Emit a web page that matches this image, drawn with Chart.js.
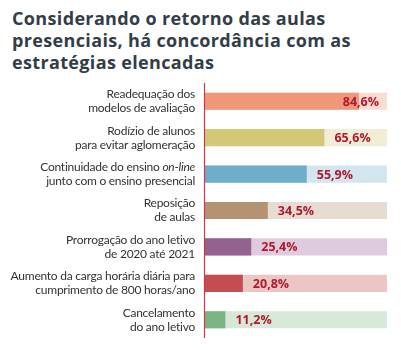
<!DOCTYPE html>
<html>
<head>
<meta charset="utf-8">
<script src="https://cdn.jsdelivr.net/npm/chart.js@4/dist/chart.umd.min.js"></script>
<style>
  html,body{margin:0;padding:0;background:#fff;}
  #wrap{position:relative;width:401px;height:350px;}
  #title{position:absolute;left:12px;top:7px;font:bold 18px "Open Sans",sans-serif;line-height:22px;color:#333d47;letter-spacing:0.35px;}
  canvas{position:absolute;left:0;top:0;}
</style>
</head>
<body>
<div id="wrap">
  <div id="title">Considerando o retorno das aulas<br>presenciais, há concordância com as<br>estratégias elencadas</div>
  <canvas id="chart" width="401" height="350"></canvas>
</div>
<script>
// ========= DADOS =========
const categories = [
    ['Readequação dos', 'modelos de avaliação'],
    ['Rodízio de alunos', 'para evitar aglomeração'],
    ['Continuidade do ensino on-line', 'junto com o ensino presencial'],
    ['Reposição', 'de aulas'],
    ['Prorrogação do ano letivo', 'de 2020 até 2021'],
    ['Aumento da carga horária diária para', 'cumprimento de 800 horas/ano'],
    ['Cancelamento', 'do ano letivo']
];
const values = [84.6, 65.6, 55.9, 34.5, 25.4, 20.8, 11.2];
const total = [100, 100, 100, 100, 100, 100, 100];
const barColors   = ['#f0977a','#d3c878','#6faecb','#b39372','#93628f','#c34e52','#7bb586'];
const trackColors = ['#fbdcd1','#f0eed5','#d3e5ee','#e6dcd2','#dfcbdd','#ebc6c5','#d6e8d7'];

const fmt = v => v.toFixed(1).replace('.', ',') + '%';
const LBL = '12px Lato, sans-serif';
const LBL_I = 'italic 12px Lato, sans-serif';

// rótulos de valor + linha vermelha do eixo
const valueLabels = {
    id: 'valueLabels',
    afterDatasetsDraw(chart){
        const ctx = chart.ctx;
        const meta = chart.getDatasetMeta(1);
        const right = chart.chartArea.right;
        ctx.save();
        ctx.font = 'bold 12.5px "Open Sans", sans-serif';
        ctx.fillStyle = '#b3172d';
        ctx.textBaseline = 'middle';
        meta.data.forEach((bar, i) => {
            const txt = fmt(values[i]);
            const w = ctx.measureText(txt).width;
            const x = Math.min(bar.x + 10, right - w - 8);
            ctx.fillText(txt, x, bar.y + 1);
        });
        // eixo
        const xa = chart.chartArea.left - 0.5;
        ctx.strokeStyle = '#c8374b';
        ctx.lineWidth = 1.2;
        ctx.beginPath();
        ctx.moveTo(xa, chart.chartArea.top);
        ctx.lineTo(xa, chart.chartArea.bottom);
        ctx.stroke();
        ctx.restore();
    }
};

// rótulos das categorias (com "on-line" em itálico)
const catLabels = {
    id: 'catLabels',
    afterDraw(chart){
        const ctx = chart.ctx;
        const ys = chart.scales.y;
        const x = chart.chartArea.left - 10;
        ctx.save();
        ctx.fillStyle = '#333333';
        ctx.textBaseline = 'middle';
        ctx.letterSpacing = '-0.25px';
        categories.forEach((lines, i) => {
            const yc = ys.getPixelForValue(i);
            lines.forEach((ln, j) => {
                const y = yc - 7 + j * 14;
                if(ln.includes('on-line')){
                    const pre = ln.replace('on-line', '');
                    ctx.font = LBL_I;
                    const wi = ctx.measureText('on-line').width;
                    ctx.textAlign = 'right';
                    ctx.fillText('on-line', x, y);
                    ctx.font = LBL;
                    ctx.fillText(pre, x - wi, y);
                } else {
                    ctx.font = LBL;
                    ctx.textAlign = 'right';
                    ctx.fillText(ln, x, y);
                }
            });
        });
        ctx.restore();
    }
};

new Chart(document.getElementById('chart').getContext('2d'), {
    type: 'bar',
    data: {
        labels: categories,
        datasets: [
            { data: total, backgroundColor: trackColors, barPercentage: 0.47, categoryPercentage: 1, order: 2 },
            { data: values, backgroundColor: barColors, barPercentage: 0.47, categoryPercentage: 1, order: 1 }
        ]
    },
    options: {
        indexAxis: 'y',
        responsive: false,
        animation: false,
        layout: { padding: { top: 83, right: 14, bottom: 12, left: 0 } },
        plugins: { legend: { display: false }, tooltip: { enabled: false }, title: { display: false } },
        datasets: { bar: { grouped: false } },
        scales: {
            x: { min: 0, max: 100, display: false },
            y: {
                grid: { display: false },
                border: { display: false },
                ticks: { display: false },
                afterFit(s){ s.width = 205; }
            }
        }
    },
    plugins: [valueLabels, catLabels]
});
</script>
</body>
</html>
